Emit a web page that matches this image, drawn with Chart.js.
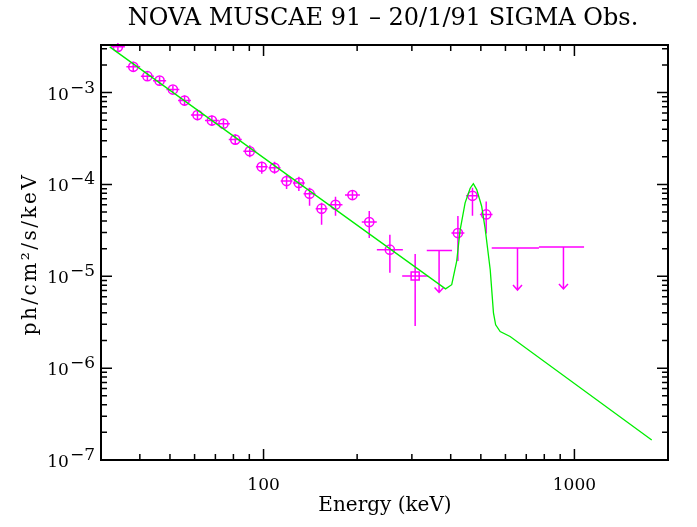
<!DOCTYPE html>
<html>
<head>
<meta charset="utf-8">
<style>
  html, body { margin: 0; padding: 0; background: #fff; }
  canvas { display: block; }
</style>
</head>
<body>
<canvas id="myChart" width="697" height="527"></canvas>
<script src="https://cdn.jsdelivr.net/npm/chart.js@4/dist/chart.umd.min.js"></script>
<script>
// SIGMA spectrum points (keV, ph/cm2/s/keV)
const energy = [34.0, 38.1, 42.3, 46.3, 51.1, 55.7, 61.3, 68.2, 74.3, 81.1, 90.3, 98.7, 108.5, 118.6, 129.9, 140.6, 153.7, 170.4, 193.2, 218.8, 254.9, 307.4, 421.9, 470.0, 520.3];
const energyLo = [32.3, 36.2, 40.3, 44.1, 48.7, 53.1, 58.4, 64.8, 70.8, 77.3, 86.1, 94.5, 103.8, 113.5, 124.3, 134.5, 147.1, 161.8, 182.8, 207.0, 231.5, 279.2, 402.2, 448.1, 496.5];
const energyHi = [35.8, 40.1, 44.4, 48.6, 53.6, 58.4, 64.3, 71.8, 77.9, 85.1, 94.7, 103.1, 113.4, 123.9, 135.7, 146.9, 160.6, 179.4, 204.2, 231.3, 280.6, 338.4, 442.6, 493.0, 545.2];
const flux = [3.15e-3, 1.91e-3, 1.51e-3, 1.35e-3, 1.08e-3, 8.2e-4, 5.7e-4, 4.96e-4, 4.59e-4, 3.08e-4, 2.30e-4, 1.56e-4, 1.52e-4, 1.09e-4, 1.04e-4, 7.93e-5, 5.45e-5, 6.01e-5, 7.67e-5, 3.90e-5, 1.95e-5, 1.01e-5, 2.96e-5, 7.53e-5, 4.72e-5];
const fluxLo = [2.85e-3, 1.68e-3, 1.37e-3, 1.22e-3, 9.8e-4, 7.2e-4, 5.0e-4, 4.37e-4, 4.15e-4, 2.72e-4, 1.98e-4, 1.31e-4, 1.31e-4, 8.9e-5, 8.5e-5, 5.87e-5, 3.65e-5, 4.56e-5, 6.93e-5, 2.61e-5, 1.09e-5, 2.88e-6, 1.47e-5, 4.56e-5, 2.93e-5];
const fluxHi = [3.48e-3, 2.17e-3, 1.67e-3, 1.49e-3, 1.19e-3, 9.3e-4, 6.5e-4, 5.62e-4, 5.08e-4, 3.49e-4, 2.67e-4, 1.77e-4, 1.77e-4, 1.27e-4, 1.21e-4, 9.22e-5, 6.34e-5, 7.34e-5, 8.48e-5, 5.14e-5, 2.84e-5, 1.75e-5, 4.53e-5, 9.20e-5, 6.54e-5];

// upper limits
const limitEnergy = [367, 656, 922];
const limitLo = [335, 542, 769];
const limitHi = [404, 769, 1074];
const limitFlux = [1.91e-5, 2.03e-5, 2.09e-5];

// model: power law + 511 keV-ish line
const modelEnergy = [32.0, 385, 403, 418, 429, 445, 462, 473, 485, 503, 516, 536, 549, 558, 577, 621, 1773];
const modelFlux = [3.15e-3, 7.3e-6, 8.1e-6, 1.45e-5, 3.2e-5, 6.3e-5, 9.1e-5, 1.02e-4, 8.8e-5, 5.8e-5, 3.35e-5, 1.18e-5, 4.0e-6, 2.96e-6, 2.5e-6, 2.21e-6, 1.65e-7];

// axes
const xMajorTicks = [100, 1000];
const xMinorTicks = [40, 50, 60, 70, 80, 90, 200, 300, 400, 500, 600, 700, 800, 900];
const xTickLabels = ["100", "1000"];
const yMajorTicks = [1e-7, 1e-6, 1e-5, 1e-4, 1e-3];
const yMinorSteps = [2, 3, 4, 5, 6, 7, 8, 9];
const yTickExponents = ["\u22127", "\u22126", "\u22125", "\u22124", "\u22123"];

const titulo = "NOVA MUSCAE 91 \u2013 20/1/91 SIGMA Obs.";
const xTitulo = "Energy (keV)";
const yTitulo = "ph/cm\u00b2/s/keV";

const squarePoint = 21;
const MAGENTA = "#ff00ff";
const GREEN = "#00ee00";
const SERIF = "'DejaVu Serif', 'Liberation Serif', serif";
const ARROW_LENGTH = 42;

const myChart = document.getElementById("myChart");

const dibujarErrores = (chart) => {
  const { ctx } = chart;
  const { x, y } = chart.scales;
  ctx.save();
  ctx.strokeStyle = MAGENTA;
  ctx.lineWidth = 1.5;
  ctx.beginPath();
  energy.forEach((e, i) => {
    const px = x.getPixelForValue(e);
    const py = y.getPixelForValue(flux[i]);
    ctx.moveTo(x.getPixelForValue(energyLo[i]), py);
    ctx.lineTo(x.getPixelForValue(energyHi[i]), py);
    ctx.moveTo(px, y.getPixelForValue(fluxLo[i]));
    ctx.lineTo(px, y.getPixelForValue(fluxHi[i]));
  });
  limitEnergy.forEach((e, i) => {
    const px = x.getPixelForValue(e);
    const py = y.getPixelForValue(limitFlux[i]);
    const tip = py + ARROW_LENGTH;
    ctx.moveTo(x.getPixelForValue(limitLo[i]), py);
    ctx.lineTo(x.getPixelForValue(limitHi[i]), py);
    ctx.moveTo(px, py);
    ctx.lineTo(px, tip);
    ctx.moveTo(px - 4.5, tip - 5);
    ctx.lineTo(px, tip);
    ctx.lineTo(px + 4.5, tip - 5);
  });
  ctx.stroke();
  ctx.restore();
};

const dibujarMarco = (chart) => {
  const { ctx, chartArea: a } = chart;
  const { x, y } = chart.scales;
  ctx.save();
  ctx.strokeStyle = "#000";
  ctx.lineWidth = 1.5;
  ctx.beginPath();
  const tickX = (v, len) => {
    const px = x.getPixelForValue(v);
    ctx.moveTo(px, a.bottom);
    ctx.lineTo(px, a.bottom - len);
    ctx.moveTo(px, a.top);
    ctx.lineTo(px, a.top + len);
  };
  const tickY = (v, len) => {
    const py = y.getPixelForValue(v);
    if (py < a.top || py > a.bottom) return;
    ctx.moveTo(a.left, py);
    ctx.lineTo(a.left + len, py);
    ctx.moveTo(a.right, py);
    ctx.lineTo(a.right - len, py);
  };
  xMajorTicks.forEach((v) => tickX(v, 11));
  xMinorTicks.forEach((v) => tickX(v, 6));
  yMajorTicks.forEach((v) => {
    tickY(v, 11);
    yMinorSteps.forEach((s) => tickY(v * s, 6));
  });
  ctx.stroke();
  ctx.lineWidth = 2;
  ctx.strokeRect(a.left, a.top, a.right - a.left, a.bottom - a.top);

  // texts
  ctx.fillStyle = "#000";
  ctx.font = `24px ${SERIF}`;
  ctx.textAlign = "center";
  ctx.textBaseline = "middle";
  ctx.fillText(titulo, 383, 19);

  ctx.font = `17px ${SERIF}`;
  ctx.textBaseline = "alphabetic";
  xMajorTicks.forEach((v, i) => {
    ctx.fillText(xTickLabels[i], x.getPixelForValue(v), 490);
  });

  ctx.font = `20px ${SERIF}`;
  ctx.textBaseline = "middle";
  ctx.fillText(xTitulo, 385, 506);

  yMajorTicks.forEach((v, i) => {
    const py = y.getPixelForValue(v);
    ctx.textAlign = "right";
    ctx.textBaseline = "alphabetic";
    ctx.font = `17px ${SERIF}`;
    const w = ctx.measureText(yTickExponents[i]).width;
    ctx.fillText(yTickExponents[i], 95, py);
    ctx.fillText("10", 95 - w - 1, py + 7);
  });

  ctx.translate(31, 254);
  ctx.rotate(-Math.PI / 2);
  ctx.font = `20px ${SERIF}`;
  ctx.letterSpacing = "2.5px";
  ctx.textAlign = "center";
  ctx.textBaseline = "middle";
  ctx.fillText(yTitulo, 0, 0);
  ctx.restore();
};

const spectrumPlugin = {
  id: "spectrum",
  beforeDatasetsDraw: dibujarErrores,
  afterDraw: dibujarMarco,
};

new Chart(myChart, {
  type: "scatter",
  data: {
    datasets: [
      {
        type: "line",
        data: modelEnergy.map((e, i) => ({ x: e, y: modelFlux[i] })),
        borderColor: GREEN,
        borderWidth: 1.3,
        pointRadius: 0,
        tension: 0,
        fill: false,
      },
      {
        data: energy.map((e, i) => ({ x: e, y: flux[i] })),
        pointStyle: energy.map((e, i) => (i === squarePoint ? "rect" : "circle")),
        pointRadius: energy.map((e, i) => (i === squarePoint ? 5.7 : 4.6)),
        borderColor: MAGENTA,
        backgroundColor: "rgba(0,0,0,0)",
        borderWidth: 1.5,
      },
    ],
  },
  options: {
    responsive: false,
    animation: false,
    layout: { padding: { left: 101, top: 45, right: 29, bottom: 67 } },
    plugins: { legend: { display: false }, tooltip: { enabled: false } },
    scales: {
      x: { type: "logarithmic", min: 30, max: 2000, display: false },
      y: { type: "logarithmic", min: 1e-7, max: 3.3e-3, display: false },
    },
  },
  plugins: [spectrumPlugin],
});
</script>
</body>
</html>
